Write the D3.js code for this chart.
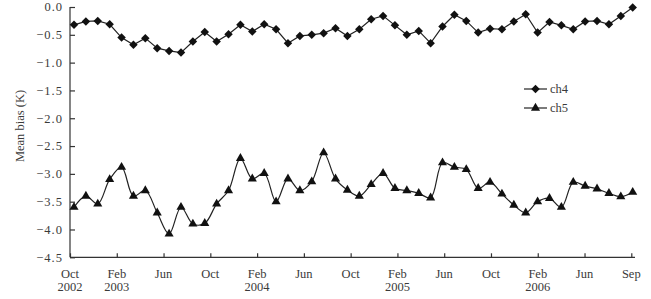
<!DOCTYPE html>
<html>
<head>
<meta charset="utf-8">
<script src="https://cdn.jsdelivr.net/npm/d3@7/dist/d3.min.js"></script>
<style>
  html, body { margin: 0; padding: 0; background: #fff; }
  svg { display: block; }
  text { font-family: "Liberation Serif", "Times New Roman", serif; fill: #3a3a3a; }
</style>
</head>
<body>
<svg id="chart" width="651" height="299"></svg>
<script>
// ---- data ----
const months = ["2002-10","2002-11","2002-12","2003-01","2003-02","2003-03","2003-04","2003-05","2003-06","2003-07","2003-08","2003-09",
  "2003-10","2003-11","2003-12","2004-01","2004-02","2004-03","2004-04","2004-05","2004-06","2004-07","2004-08","2004-09",
  "2004-10","2004-11","2004-12","2005-01","2005-02","2005-03","2005-04","2005-05","2005-06","2005-07","2005-08","2005-09",
  "2005-10","2005-11","2005-12","2006-01","2006-02","2006-03","2006-04","2006-05","2006-06","2006-07","2006-08","2006-09"];
const ch4 = [-0.32,-0.26,-0.25,-0.31,-0.55,-0.68,-0.56,-0.74,-0.79,-0.82,-0.62,-0.45,
  -0.62,-0.49,-0.32,-0.44,-0.31,-0.40,-0.65,-0.52,-0.50,-0.47,-0.38,-0.52,
  -0.40,-0.22,-0.16,-0.33,-0.50,-0.43,-0.65,-0.35,-0.14,-0.25,-0.46,-0.39,
  -0.40,-0.26,-0.13,-0.46,-0.27,-0.33,-0.40,-0.26,-0.25,-0.31,-0.16,-0.01];
const ch5 = [-3.60,-3.40,-3.54,-3.10,-2.88,-3.40,-3.30,-3.70,-4.08,-3.60,-3.90,-3.89,
  -3.54,-3.30,-2.72,-3.09,-2.99,-3.50,-3.09,-3.30,-3.14,-2.62,-3.09,-3.29,
  -3.40,-3.19,-2.99,-3.26,-3.30,-3.35,-3.43,-2.80,-2.88,-2.92,-3.26,-3.15,
  -3.36,-3.56,-3.70,-3.50,-3.44,-3.60,-3.15,-3.22,-3.27,-3.35,-3.41,-3.33];
const yTicks = [0, -0.5, -1, -1.5, -2, -2.5, -3, -3.5, -4, -4.5];
const xTickLabels = [["Oct","2002"],["Feb","2003"],["Jun"],["Oct"],["Feb","2004"],["Jun"],["Oct"],
  ["Feb","2005"],["Jun"],["Oct"],["Feb","2006"],["Jun"],["Sep"]];
const seriesNames = ["ch4","ch5"];

// ---- chart ----
const svg = d3.select("#chart");
const axisColor = "#333";
const x = d3.scalePoint().domain(months).range([74, 632.7]);
const xt = d3.scalePoint().domain(d3.range(xTickLabels.length)).range([70, 631.3]);
const y = d3.scaleLinear().domain([-4.5, 0]).range([257.3, 7]);

// y axis
const yAxis = d3.axisRight(y).tickValues(yTicks).tickSize(5).tickFormat(() => "");
const gy = svg.append("g").attr("transform", "translate(70,0)").call(yAxis);
gy.select(".domain").attr("stroke", axisColor).attr("stroke-width", 1.2).attr("d", `M0,${y(0)}V${y(-4.5)}`);
gy.selectAll(".tick line").attr("stroke", axisColor).attr("stroke-width", 1.2);
svg.append("g").selectAll("text").data(yTicks).join("text")
  .attr("x", 63).attr("y", d => y(d)).attr("dy", "0.35em")
  .attr("text-anchor", "end").attr("font-size", 12.5).attr("letter-spacing", 1)
  .text(d => (d < 0 ? "\u2212" : "") + Math.abs(d).toFixed(1));

// x axis
const xAxis = d3.axisTop(xt).tickSize(4).tickFormat(() => "");
const gx = svg.append("g").attr("transform", `translate(0,${y(-4.5)})`).call(xAxis);
gx.select(".domain").attr("stroke", axisColor).attr("stroke-width", 1.2).attr("d", "M70,0H635");
gx.selectAll(".tick line").attr("stroke", axisColor).attr("stroke-width", 1.2);
const xl = svg.append("g").selectAll("text").data(xTickLabels).join("text")
  .attr("x", (d, i) => xt(i)).attr("y", 277.5)
  .attr("text-anchor", "middle").attr("font-size", 12.5);
xl.selectAll("tspan").data(d => d).join("tspan")
  .attr("x", function() { return d3.select(this.parentNode).attr("x"); })
  .attr("dy", (d, i) => i === 0 ? 0 : 13)
  .text(d => d);

// y title
svg.append("text").attr("transform", "translate(24,126) rotate(-90)")
  .attr("text-anchor", "middle").attr("font-size", 12.5).text("Mean bias (K)");

// lines
const line4 = d3.line().x((d, i) => x(months[i])).y(d => y(d));
const line5 = d3.line().x((d, i) => x(months[i])).y(d => y(d)).curve(d3.curveCatmullRom.alpha(0.5));
svg.append("path").attr("d", line4(ch4)).attr("fill", "none").attr("stroke", "#222").attr("stroke-width", 1.2);
svg.append("path").attr("d", line5(ch5)).attr("fill", "none").attr("stroke", "#222").attr("stroke-width", 1.2);

const diamond = d3.symbol().type(d3.symbolSquare).size(36)();
const tri = d3.symbol().type(d3.symbolTriangle).size(36)();
svg.append("g").selectAll("path").data(ch4).join("path")
  .attr("d", diamond)
  .attr("transform", (d, i) => `translate(${x(months[i])},${y(d)}) rotate(45)`)
  .attr("fill", "#111");
svg.append("g").selectAll("path").data(ch5).join("path")
  .attr("d", tri)
  .attr("transform", (d, i) => `translate(${x(months[i])},${y(d)})`)
  .attr("fill", "#111");

// legend
const leg = svg.append("g");
seriesNames.forEach((name, i) => {
  const ly = 89 + i * 19;
  leg.append("line").attr("x1", 524).attr("x2", 547).attr("y1", ly).attr("y2", ly)
    .attr("stroke", "#222").attr("stroke-width", 1.2);
  leg.append("path").attr("d", i === 0 ? diamond : tri)
    .attr("transform", `translate(535.5,${ly})` + (i === 0 ? " rotate(45)" : ""))
    .attr("fill", "#111");
  leg.append("text").attr("x", 550).attr("y", ly).attr("dy", "0.35em")
    .attr("font-size", 12.5).text(name);
});
</script>
</body>
</html>
